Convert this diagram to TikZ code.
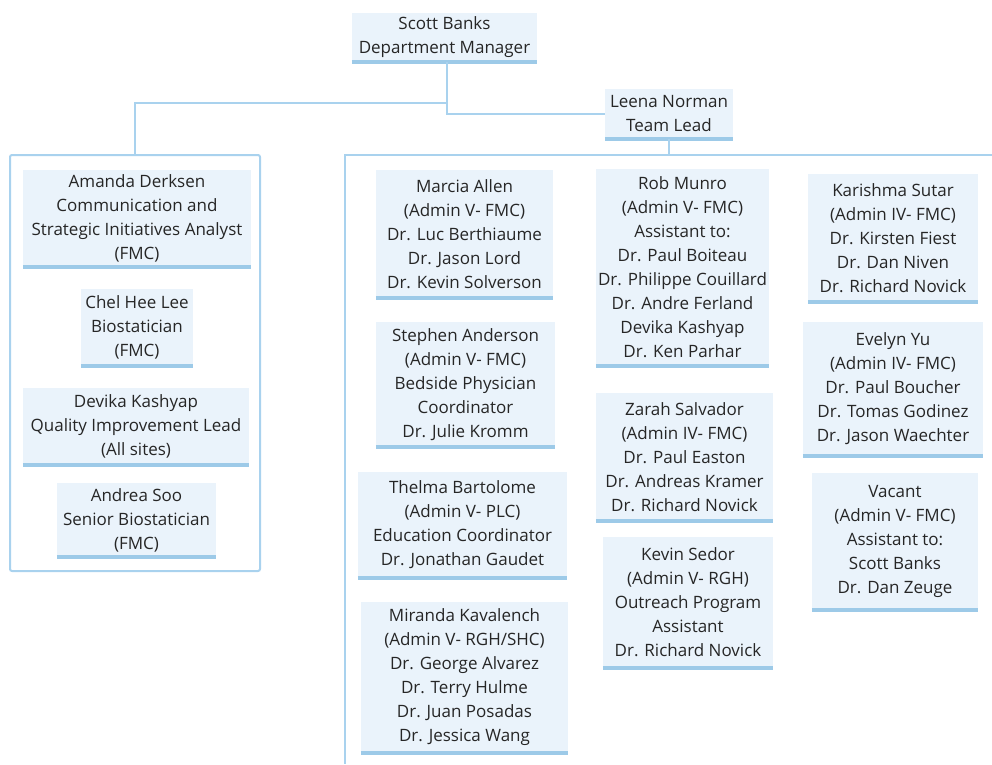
\documentclass[tikz,border=0pt]{standalone}
\usepackage{fontspec}
\setmainfont{Open Sans}
\usetikzlibrary{positioning}
\definecolor{cardfill}{HTML}{EAF3FB}
\definecolor{cardbar}{HTML}{9DCAE8}
\definecolor{linkblue}{HTML}{A9D2EE}
\definecolor{inktext}{HTML}{262626}
\tikzset{
    card/.style={rectangle, fill=cardfill, align=center, inner sep=1pt, text=inktext, font=\fontsize{17}{24}\selectfont},
    bar/.style={draw=cardbar, line width=3.5pt},
    link/.style={draw=linkblue, line width=2.2pt},
    group/.style={rectangle, draw=linkblue, line width=2pt, rounded corners=2pt}
}

\begin{document}
\begin{tikzpicture}[x=1pt, y=-1pt]
    \useasboundingbox (0,0) rectangle (992,764);

    % top levels
    \node[card, minimum width=185pt, minimum height=49pt] (scott) at (444.5,37.5) {Scott Banks\\Department Manager};
    \node[card, minimum width=128pt, minimum height=50pt] (leena) at (669,114) {Leena Norman\\Team Lead};

    % left group
    \node[group, minimum width=250pt, minimum height=416pt] (leftgrp) at (135,363) {};
    \node[card, minimum width=228pt, minimum height=97pt] (amanda) at (137,218.5) {Amanda Derksen\\Communication and\\Strategic Initiatives Analyst\\(FMC)};
    \node[card, minimum width=112pt, minimum height=77pt] (chel) at (137,327.5) {Chel Hee Lee\\Biostatician\\(FMC)};
    \node[card, minimum width=226pt, minimum height=77pt] (devika) at (136,426.5) {Devika Kashyap\\Quality Improvement Lead\\(All sites)};
    \node[card, minimum width=159pt, minimum height=74pt] (andrea) at (136.5,520) {Andrea Soo\\Senior Biostatician\\(FMC)};

    % right group
    \coordinate (rtop) at (669,155);
    \draw[group, rounded corners=0pt] (992,155) -- (345,155) -- (345,764);
    \node[card, minimum width=177pt, minimum height=128pt] (marcia) at (464.5,234) {Marcia Allen\\(Admin V- FMC)\\Dr. Luc Berthiaume\\Dr. Jason Lord\\Dr. Kevin Solverson};
    \node[card, minimum width=179pt, minimum height=125pt] (stephen) at (465.5,384.5) {Stephen Anderson\\(Admin V- FMC)\\Bedside Physician\\Coordinator\\Dr. Julie Kromm};
    \node[card, minimum width=209pt, minimum height=106pt] (thelma) at (462.5,525) {Thelma Bartolome\\(Admin V- PLC)\\Education Coordinator\\Dr. Jonathan Gaudet};
    \node[card, minimum width=207pt, minimum height=151pt] (miranda) at (464.5,677.5) {Miranda Kavalench\\(Admin V- RGH/SHC)\\Dr. George Alvarez\\Dr. Terry Hulme\\Dr. Juan Posadas\\Dr. Jessica Wang};
    \node[card, minimum width=173pt, minimum height=197pt] (rob) at (682.5,267.5) {Rob Munro\\(Admin V- FMC)\\Assistant to:\\Dr. Paul Boiteau\\Dr. Philippe Couillard\\Dr. Andre Ferland\\Devika Kashyap\\Dr. Ken Parhar};
    \node[card, minimum width=177pt, minimum height=128pt] (zarah) at (684.5,457) {Zarah Salvador\\(Admin IV- FMC)\\Dr. Paul Easton\\Dr. Andreas Kramer\\Dr. Richard Novick};
    \node[card, minimum width=170pt, minimum height=131pt] (kevin) at (688,602.5) {Kevin Sedor\\(Admin V- RGH)\\Outreach Program\\Assistant\\Dr. Richard Novick};
    \node[card, minimum width=170pt, minimum height=128pt] (karishma) at (893,238) {Karishma Sutar\\(Admin IV- FMC)\\Dr. Kirsten Fiest\\Dr. Dan Niven\\Dr. Richard Novick};
    \node[card, minimum width=180pt, minimum height=134pt] (evelyn) at (893,389) {Evelyn Yu\\(Admin IV- FMC)\\Dr. Paul Boucher\\Dr. Tomas Godinez\\Dr. Jason Waechter};
    \node[card, minimum width=166pt, minimum height=137pt] (vacant) at (895,541.5) {Vacant\\(Admin V- FMC)\\Assistant to:\\Scott Banks\\Dr. Dan Zeuge};

    % bottom bars
    \foreach \n in {scott, leena, amanda, chel, devika, andrea, marcia, stephen, thelma, miranda, rob, zarah, kevin, karishma, evelyn, vacant}
        \draw[bar] (\n.south west) -- (\n.south east);

    % connectors
    \coordinate (split) at (447,103);
    \draw[link] (scott.south -| split) -- (split) -| (leftgrp.north);
    \draw[link] (split) |- (leena.west);
    \draw[link] (leena.south) -- (rtop);
\end{tikzpicture}
\end{document}
